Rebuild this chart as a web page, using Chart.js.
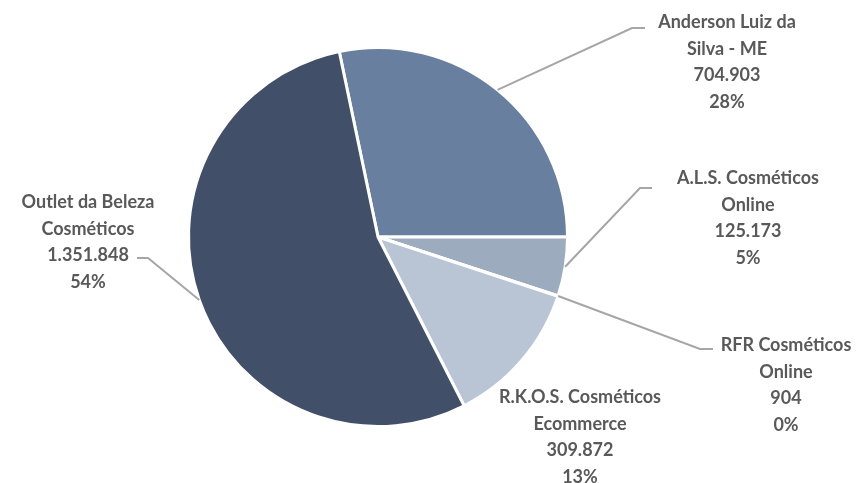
<!DOCTYPE html>
<html>
<head>
<meta charset="utf-8">
<script src="https://cdn.jsdelivr.net/npm/chart.js@4/dist/chart.umd.min.js"></script>
<style>
  html, body { margin: 0; padding: 0; background: #ffffff; }
  #wrap { width: 866px; height: 483px; position: relative; }
</style>
</head>
<body>
<div id="wrap"><canvas id="c" width="866" height="483"></canvas></div>
<script>
const categories = [
  ["Anderson Luiz da", "Silva - ME"],
  ["A.L.S. Cosméticos", "Online"],
  ["RFR Cosméticos", "Online"],
  ["R.K.O.S. Cosméticos", "Ecommerce"],
  ["Outlet da Beleza", "Cosméticos"]
];
const values = [704903, 125173, 904, 309872, 1351848];
const percentLabels = ["28%", "5%", "0%", "13%", "54%"];
const colors = ["#687f9f", "#9dabbf", "#c6cfdc", "#b9c5d5", "#415068"];

// label box centre x, first-line y, and elbow point of leader (null = no leader)
const labelPos = [
  { x: 727, y: 22, elbow: [632, 28], end: [645, 28] },
  { x: 748, y: 178, elbow: [640, 188], end: [652, 188] },
  { x: 786, y: 345, elbow: [700, 349], end: [713, 349] },
  { x: 580, y: 397, elbow: null },
  { x: 88,  y: 202, elbow: [148, 258], end: [137, 258] }
];

const fmt = v => v.toString().replace(/\B(?=(\d{3})+(?!\d))/g, ".");

const labelPlugin = {
  id: "pieLabels",
  afterDatasetsDraw(chart) {
    const ctx = chart.ctx;
    const meta = chart.getDatasetMeta(0);
    ctx.save();
    meta.data.forEach((arc, i) => {
      const p = labelPos[i];
      if (p.elbow) {
        const mid = (arc.startAngle + arc.endAngle) / 2;
        const sx = arc.x + Math.cos(mid) * arc.outerRadius;
        const sy = arc.y + Math.sin(mid) * arc.outerRadius;
        ctx.strokeStyle = "#a6a6a6";
        ctx.lineWidth = 2;
        ctx.beginPath();
        ctx.moveTo(sx, sy);
        ctx.lineTo(p.elbow[0], p.elbow[1]);
        ctx.lineTo(p.end[0], p.end[1]);
        ctx.stroke();
      }
      const lines = categories[i].concat([fmt(values[i]), percentLabels[i]]);
      ctx.fillStyle = "#595959";
      ctx.font = "bold 18px Lato, 'Open Sans', sans-serif";
      ctx.textAlign = "center";
      ctx.textBaseline = "middle";
      lines.forEach((t, k) => ctx.fillText(t, p.x, p.y + k * 26.7));
    });
    ctx.restore();
  }
};

new Chart(document.getElementById("c"), {
  type: "pie",
  data: {
    labels: categories.map(c => c.join(" ")),
    datasets: [{
      data: values,
      backgroundColor: colors,
      borderColor: "#ffffff",
      borderWidth: 3
    }]
  },
  options: {
    responsive: false,
    animation: false,
    rotation: -11.8,
    layout: { padding: { left: 187, right: 297, top: 46, bottom: 55 } },
    plugins: { legend: { display: false }, tooltip: { enabled: false } }
  },
  plugins: [labelPlugin]
});
</script>
</body>
</html>
